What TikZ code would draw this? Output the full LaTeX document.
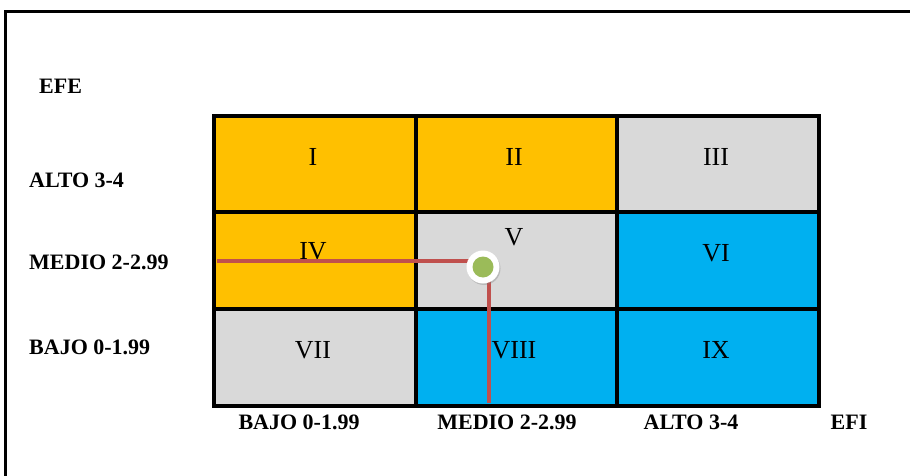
\documentclass[tikz,border=0pt]{standalone}
\usepackage{fontspec}
\setmainfont{Liberation Serif}
\usetikzlibrary{shadows}
\definecolor{cOr}{HTML}{FFC000}
\definecolor{cGr}{HTML}{D9D9D9}
\definecolor{cBl}{HTML}{00B0F0}
\definecolor{cRed}{HTML}{C0504D}
\definecolor{cDot}{HTML}{9BBB59}
\tikzset{
  cell/.style={draw=black, line width=4pt, minimum width=202pt, minimum height=97pt, inner sep=0pt, anchor=north west},
  num/.style={font=\fontsize{26}{28}\selectfont, inner sep=0pt},
  lab/.style={font=\fontsize{22}{24}\selectfont\bfseries, inner sep=0pt},
  redline/.style={draw=cRed, line width=4pt},
  ring/.style={circle, fill=white, minimum size=33pt, inner sep=0pt, drop shadow={shadow xshift=1pt, shadow yshift=-1.5pt, opacity=0.35}},
  dotin/.style={circle, fill=cDot, minimum size=21pt, inner sep=0pt}
}
\begin{document}
\begin{tikzpicture}[x=1pt,y=-1pt]
\useasboundingbox (0,0) rectangle (910,476);
\fill[white] (0,0) rectangle (910,476);
% outer frame
\draw[line width=3pt] (5,476) -- (5,12) -- (910,12);
% cells
\node[cell, fill=cOr] (c1) at (212,114) {};
\node[cell, fill=cOr] (c2) at (414,114) {};
\node[cell, fill=cGr] (c3) at (615,114) {};
\node[cell, fill=cOr] (c4) at (212,210) {};
\node[cell, fill=cGr] (c5) at (414,210) {};
\node[cell, fill=cBl] (c6) at (615,210) {};
\node[cell, fill=cGr] (c7) at (212,307) {};
\node[cell, fill=cBl] (c8) at (414,307) {};
\node[cell, fill=cBl] (c9) at (615,307) {};
% numerals
\node[num] (n1) at (313,157) {I};
\node[num] (n2) at (514,157) {II};
\node[num] (n3) at (716,157) {III};
\node[num] (n4) at (313,251) {IV};
\node[num] (n5) at (514,237) {V};
\node[num] (n6) at (716,253) {VI};
\node[num] (n7) at (313,350) {VII};
\node[num] (n8) at (514,350) {VIII};
\node[num] (n9) at (716,350) {IX};
% red lines and dot
\coordinate (dc) at (483,267);
\coordinate (hs) at (217,261);
\coordinate (vs) at (489,403);
\draw[redline] (hs) -- (hs -| dc);
\draw[redline] (vs) -- (vs |- dc);
\node[ring] (dot) at (dc) {};
\node[dotin] (dotc) at (dc) {};
% labels
\node[lab, anchor=west] (efe) at (39,86) {EFE};
\node[lab, anchor=west] (ya) at (29,180) {ALTO 3-4};
\node[lab, anchor=west] (ym) at (29,262) {MEDIO 2-2.99};
\node[lab, anchor=west] (yb) at (29,347) {BAJO 0-1.99};
\node[lab] (xb) at (299,422) {BAJO 0-1.99};
\node[lab] (xm) at (507,422) {MEDIO 2-2.99};
\node[lab] (xa) at (691,422) {ALTO 3-4};
\node[lab] (efi) at (849,422) {EFI};
\end{tikzpicture}
\end{document}
